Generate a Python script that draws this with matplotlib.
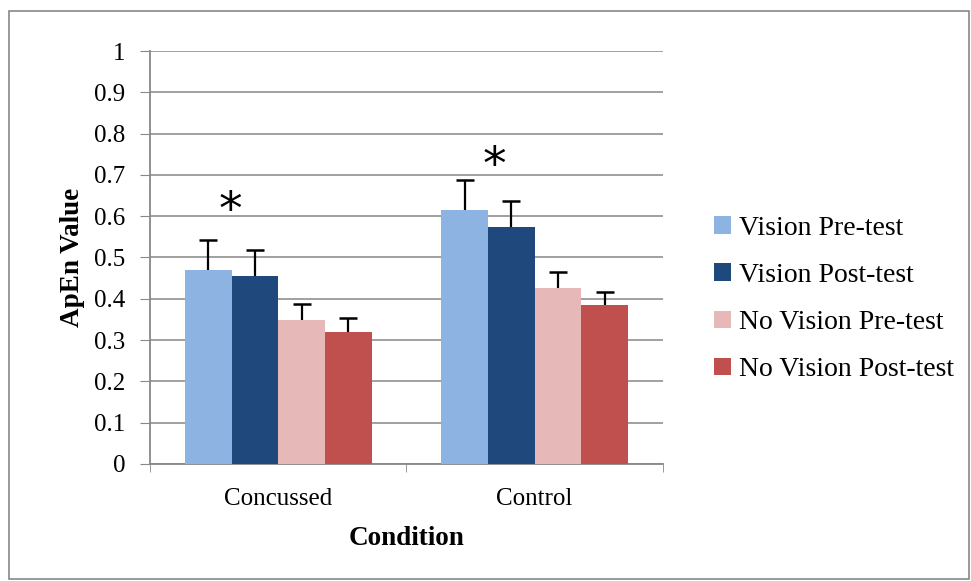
import numpy as np
import matplotlib
matplotlib.use("Agg")
import matplotlib.pyplot as plt
from matplotlib.patches import Rectangle
from matplotlib.transforms import offset_copy

conditions = ["Concussed", "Control"]
series = ["Vision Pre-test", "Vision Post-test", "No Vision Pre-test", "No Vision Post-test"]
means = [
    [0.470, 0.614],
    [0.456, 0.575],
    [0.348, 0.425],
    [0.320, 0.384],
]
errors = [
    [0.072, 0.074],
    [0.061, 0.062],
    [0.039, 0.039],
    [0.033, 0.032],
]
colors = ["#8db3e2", "#1f497d", "#e6b9b8", "#c0504d"]
star_heights = [0.632, 0.743]
star_shift = [-0.187, -0.156]

plt.rcParams["font.family"] = ["Liberation Serif", "DejaVu Serif"]

fig = plt.figure(figsize=(9.71, 5.81), dpi=100)
ax = fig.add_axes([0.1545, 0.2014, 0.528, 0.7108])

# outer frame like the spreadsheet chart area
fig.patches.append(Rectangle((9 / 971, 2 / 581), 960 / 971, 568 / 581, transform=fig.transFigure,
                             fill=False, edgecolor="#888888", linewidth=1.2))

x = np.arange(len(conditions))
width = 0.182
for i, name in enumerate(series):
    pos = x + (i - 1.5) * width
    top = np.array(means[i]) + np.array(errors[i])
    ax.bar(pos, means[i], width, color=colors[i], label=name, zorder=3)
    # upper-only error bars
    ax.vlines(pos, means[i], top, color="black", linewidth=1.6, zorder=4)
    ax.plot(pos, top, linestyle="none", marker="_", markersize=13, markeredgewidth=1.8,
            color="black", zorder=4)

star_tr = offset_copy(ax.transData, fig=fig, x=0, y=-9, units="dots")
for j in range(len(conditions)):
    ax.text(x[j] + star_shift[j], star_heights[j], "*", ha="center", va="center", fontsize=34,
            fontfamily="DejaVu Sans", transform=star_tr)

ax.set_xlim(-0.5, 1.5)
ax.set_ylim(0, 1)
ax.set_yticks(np.arange(0, 1.01, 0.1))
ax.set_yticklabels(["0"] + ["%.1f" % v for v in np.arange(0.1, 0.95, 0.1)] + ["1"])
ax.set_xticks(x)
ax.set_xticklabels(conditions)
ax.set_xticks([-0.5, 0.5, 1.5], minor=True)
ax.tick_params(axis="x", which="major", length=0, labelsize=18, pad=17)
ax.tick_params(axis="x", which="minor", length=6, color="#888888")
ax.tick_params(axis="y", length=7, color="#888888", labelsize=18, pad=11)
ax.yaxis.grid(True, color="#999999", linewidth=1.3, zorder=0)
for s in ["top", "right"]:
    ax.spines[s].set_visible(False)
ax.spines["left"].set_color("#888888")
ax.spines["bottom"].set_color("#888888")
ax.spines["left"].set_linewidth(1.3)
ax.spines["bottom"].set_linewidth(1.3)

ax.set_xlabel("Condition", fontsize=19.5, fontweight="bold", labelpad=12)
ax.set_ylabel("ApEn Value", fontsize=19.5, fontweight="bold", labelpad=6)

fig.legend(loc="center left", bbox_to_anchor=(714 / 971, 1 - 299 / 581), frameon=False, fontsize=20,
           handlelength=0.6, handleheight=0.6, handletextpad=0.3, labelspacing=0.8,
           borderaxespad=0, borderpad=0)

fig.savefig("out.png", dpi=100)
